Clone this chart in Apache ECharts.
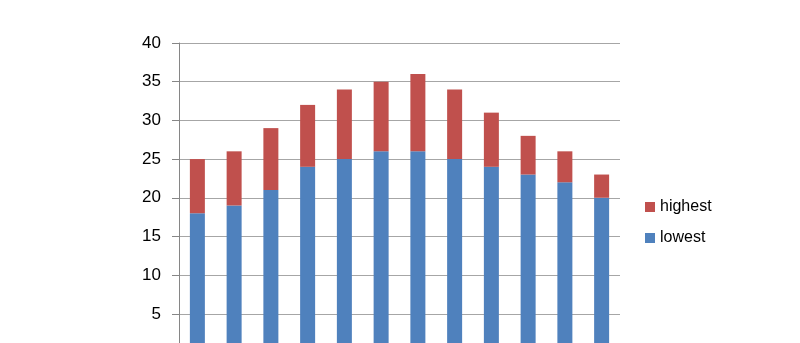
<!DOCTYPE html>
<html>
<head>
<meta charset="utf-8">
<script src="https://cdn.jsdelivr.net/npm/echarts@6/dist/echarts.min.js"></script>
<style>html,body{margin:0;padding:0;background:#fff;}#c{width:800px;height:343px;}</style>
</head>
<body>
<div id="c"></div>
<script>
var categories = ['1','2','3','4','5','6','7','8','9','10','11','12'];
var lowest = [18, 19, 21, 24, 25, 26, 26, 25, 24, 23, 22, 20];
var highest = [7, 7, 8, 8, 9, 9, 10, 9, 7, 5, 4, 3];
var yTicks = [0, 5, 10, 15, 20, 25, 30, 35, 40];

var chart = echarts.init(document.getElementById('c'), null, {renderer: 'canvas'});
chart.setOption({
  animation: false,
  backgroundColor: '#ffffff',
  grid: {left: 179, top: 43, width: 441, height: 309.5, containLabel: false, outerBoundsMode: 'none'},
  legend: {
    orient: 'vertical',
    left: 640,
    top: 194,
    itemWidth: 10,
    itemHeight: 10,
    itemGap: 15,
    icon: 'rect',
    data: ['highest', 'lowest'],
    textStyle: {fontFamily: 'Liberation Sans', fontSize: 16, color: '#000'}
  },
  xAxis: {
    type: 'category',
    data: categories,
    axisLabel: {show: false},
    axisTick: {show: false},
    axisLine: {show: false}
  },
  yAxis: {
    type: 'value',
    min: yTicks[0],
    max: yTicks[yTicks.length - 1],
    interval: 5,
    axisLine: {show: true, lineStyle: {color: '#868686', width: 1}},
    axisTick: {show: true, length: 7, lineStyle: {color: '#868686'}},
    splitLine: {lineStyle: {color: '#a6a6a6', width: 1}},
    axisLabel: {margin: 18, fontFamily: 'Liberation Sans', fontSize: 17, color: '#000'}
  },
  series: [
    {name: 'lowest', type: 'bar', stack: 't', data: lowest, barWidth: 15, itemStyle: {color: '#4F81BD'}},
    {name: 'highest', type: 'bar', stack: 't', data: highest, barWidth: 15, itemStyle: {color: '#C0504D'}}
  ]
});
</script>
</body>
</html>
